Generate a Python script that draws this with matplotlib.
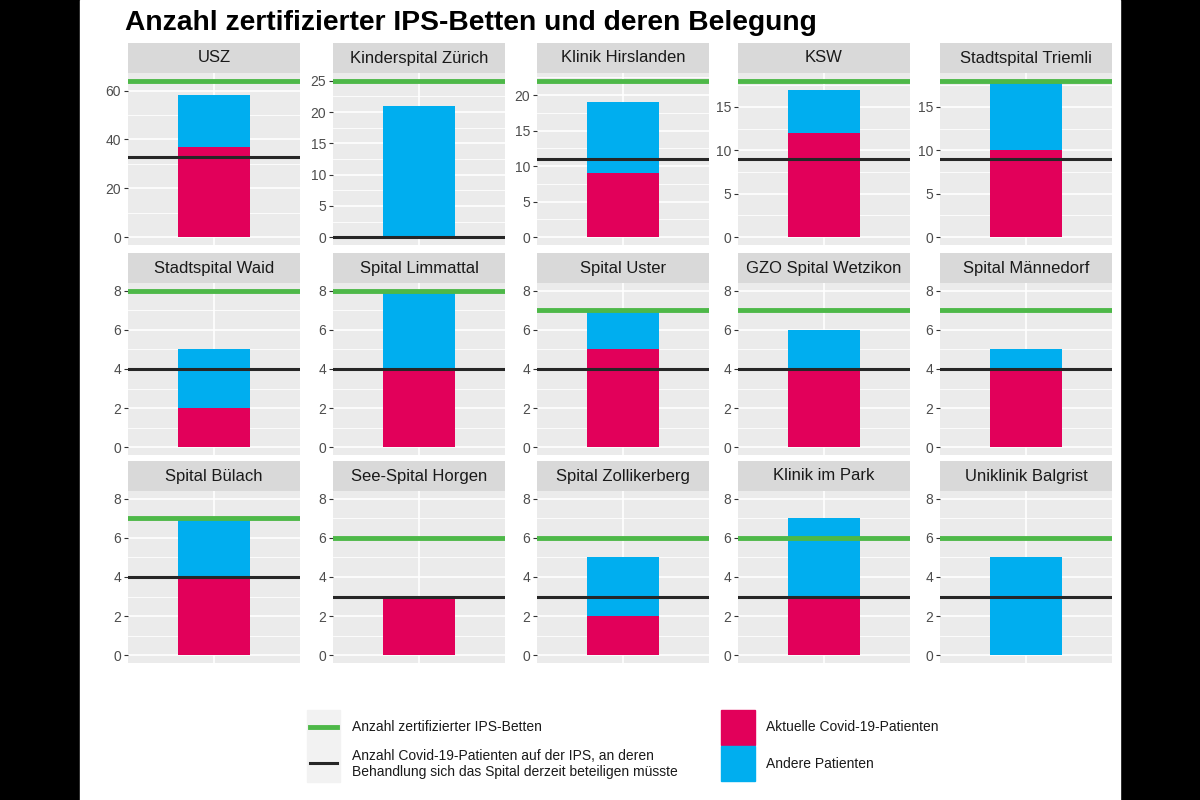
import matplotlib
matplotlib.use("Agg")
import matplotlib.pyplot as plt
from matplotlib.patches import Rectangle
from matplotlib.lines import Line2D
from matplotlib.ticker import MaxNLocator, AutoMinorLocator

plt.rcParams['font.family'] = ['Liberation Sans', 'DejaVu Sans']

spitaeler = ["USZ", "Kinderspital Zürich", "Klinik Hirslanden", "KSW", "Stadtspital Triemli",
             "Stadtspital Waid", "Spital Limmattal", "Spital Uster", "GZO Spital Wetzikon", "Spital Männedorf",
             "Spital Bülach", "See-Spital Horgen", "Spital Zollikerberg", "Klinik im Park", "Uniklinik Balgrist"]
covid = [37, 0, 9, 12, 10, 2, 4, 5, 4, 4, 4, 3, 2, 3, 0]
andere = [21, 21, 10, 5, 8, 3, 4, 2, 2, 1, 3, 0, 3, 4, 5]
betten = [64, 25, 22, 18, 18, 8, 8, 7, 7, 7, 7, 6, 6, 6, 6]
beteiligung = [33, 0, 11, 9, 9, 4, 4, 4, 4, 4, 4, 3, 3, 3, 3]

ROT = "#E2005A"
BLAU = "#00AEEF"
GRUEN = "#4DB848"
SCHWARZ = "#262626"

W, H = 1200, 800
fig = plt.figure(figsize=(12, 8), dpi=100, facecolor="black")
fig.patches.append(Rectangle((80 / W, 0), 1040 / W, 1, transform=fig.transFigure,
                             color="white", zorder=-10))


def box(x, y, w, h):
    # pixel box (top-left origin) -> figure fractions
    return [x / W, 1 - (y + h) / H, w / W, h / H]


fig.text(125 / W, 1 - 23 / H, "Anzahl zertifizierter IPS-Betten und deren Belegung",
         fontsize=20.3, fontweight="bold", va="center", ha="left")

col_x = [128, 333, 537, 738, 940]
row_y = [43, 253, 461]
pw, sh, ph = 172, 30, 172

for i, name in enumerate(spitaeler):
    r, c = divmod(i, 5)
    x0, y0 = col_x[c], row_y[r]

    st = fig.add_axes(box(x0, y0, pw, sh))
    st.set_facecolor("#D9D9D9")
    st.set_xticks([])
    st.set_yticks([])
    for s in st.spines.values():
        s.set_visible(False)
    st.text(0.5, 0.5, name, ha="center", va="center", fontsize=12, color="#1A1A1A",
            transform=st.transAxes)

    ax = fig.add_axes(box(x0, y0 + sh, pw, ph))
    ax.set_facecolor("#EBEBEB")
    top = max(8, betten[i], covid[i] + andere[i])
    ax.set_ylim(-0.05 * top, 1.05 * top)
    ax.set_xlim(0.4, 1.6)
    ax.yaxis.set_major_locator(MaxNLocator(nbins=6, steps=[1, 2, 5, 10], integer=True))
    ax.yaxis.set_minor_locator(AutoMinorLocator(2))
    ax.set_xticks([1])
    ax.set_xticklabels([])
    ax.tick_params(axis="x", length=0)
    ax.tick_params(axis="y", which="major", length=3, color="#333333", labelsize=10,
                   labelcolor="#4D4D4D", pad=2)
    ax.tick_params(axis="y", which="minor", length=0)
    ax.grid(True, which="major", color="white", linewidth=1.2)
    ax.grid(True, which="minor", axis="y", color="white", linewidth=0.6)
    ax.set_axisbelow(True)
    for s in ax.spines.values():
        s.set_visible(False)

    ax.bar(1, covid[i], width=0.5, color=ROT, zorder=2)
    ax.bar(1, andere[i], bottom=covid[i], width=0.5, color=BLAU, zorder=2)
    ax.axhline(beteiligung[i], color=SCHWARZ, linewidth=2.2, zorder=3)
    ax.axhline(betten[i], color=GRUEN, linewidth=3.5, zorder=3)

# legend, left block (lines)
fig.patches.append(Rectangle((307 / W, 1 - 782 / H), 33 / W, 72 / H,
                             transform=fig.transFigure, color="#F2F2F2", zorder=1))
fig.add_artist(Line2D([310 / W, 337 / W], [1 - 727 / H] * 2, color=GRUEN, linewidth=3.5))
fig.add_artist(Line2D([310 / W, 337 / W], [1 - 763 / H] * 2, color=SCHWARZ, linewidth=2.2))
fig.text(352 / W, 1 - 727 / H, "Anzahl zertifizierter IPS-Betten", fontsize=10,
         va="center", ha="left", color="#1A1A1A")
fig.text(352 / W, 1 - 764 / H,
         "Anzahl Covid-19-Patienten auf der IPS, an deren\nBehandlung sich das Spital derzeit beteiligen müsste",
         fontsize=10, va="center", ha="left", color="#1A1A1A", linespacing=1.25)

# legend, right block (fills)
fig.patches.append(Rectangle((721 / W, 1 - 745 / H), 34 / W, 35 / H,
                             transform=fig.transFigure, color=ROT, zorder=1))
fig.patches.append(Rectangle((721 / W, 1 - 781 / H), 34 / W, 35 / H,
                             transform=fig.transFigure, color=BLAU, zorder=1))
fig.text(766 / W, 1 - 727 / H, "Aktuelle Covid-19-Patienten", fontsize=10,
         va="center", ha="left", color="#1A1A1A")
fig.text(766 / W, 1 - 764 / H, "Andere Patienten", fontsize=10,
         va="center", ha="left", color="#1A1A1A")

fig.savefig("out.png", dpi=100, facecolor=fig.get_facecolor())
